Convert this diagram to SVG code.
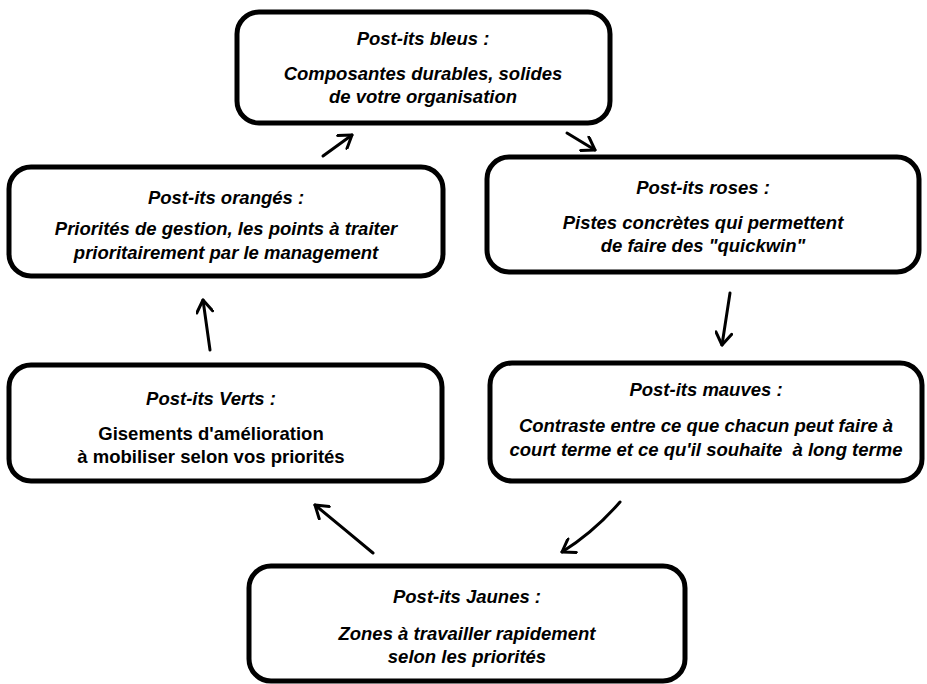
<svg xmlns="http://www.w3.org/2000/svg" width="927" height="684" viewBox="0 0 927 684">
  <style>
    .box { fill: #ffffff; stroke: #000000; stroke-width: 5; }
    .t { font-family: "Liberation Sans", Arial, sans-serif; font-size: 18.5px; font-weight: bold; font-style: italic; fill: #000000; text-anchor: middle; }
    .up { font-style: normal; }
    .arrow { fill: none; stroke: #000000; stroke-width: 3; stroke-linecap: round; marker-end: url(#head); }
  </style>
  <defs>
    <marker id="head" viewBox="-14 -9 16 18" refX="0" refY="0" markerWidth="16" markerHeight="18" markerUnits="userSpaceOnUse" orient="auto">
      <path d="M-12,-8 L0,0 L-12,8" fill="none" stroke="#000000" stroke-width="3" stroke-linecap="round" stroke-linejoin="round"/>
    </marker>
  </defs>
  <rect width="927" height="684" fill="#ffffff"/>

  <g id="connectors">
    <path class="arrow" d="M323,156 L352,135"/>
    <path class="arrow" d="M567,133 L595,150"/>
    <path class="arrow" d="M730,293 L722,345"/>
    <path class="arrow" d="M210,350 L203,300"/>
    <path class="arrow" d="M620,502 Q594,532 562,552"/>
    <path class="arrow" d="M373,553 Q343,528 315,505"/>
  </g>

  <g id="bleus">
    <rect class="box" x="237" y="12" width="373" height="111" rx="22"/>
    <text class="t" x="423" y="45">Post-its bleus :</text>
    <text class="t" x="423" y="80">Composantes durables, solides</text>
    <text class="t" x="423" y="103">de votre organisation</text>
  </g>

  <g id="oranges">
    <rect class="box" x="9" y="167" width="434" height="109" rx="22"/>
    <text class="t" x="226" y="204">Post-its orangés :</text>
    <text class="t" x="226" y="235">Priorités de gestion, les points à traiter</text>
    <text class="t" x="226" y="259">prioritairement par le management</text>
  </g>

  <g id="roses">
    <rect class="box" x="487" y="157" width="432" height="115" rx="22"/>
    <text class="t" x="703" y="194">Post-its roses :</text>
    <text class="t" x="703" y="229">Pistes concrètes qui permettent</text>
    <text class="t" x="703" y="252">de faire des "quickwin"</text>
  </g>

  <g id="verts">
    <rect class="box" x="9" y="365" width="433" height="116" rx="22"/>
    <text class="t" x="211" y="405">Post-its Verts :</text>
    <text class="t up" x="211" y="440">Gisements d'amélioration</text>
    <text class="t up" x="211" y="463">à mobiliser selon vos priorités</text>
  </g>

  <g id="mauves">
    <rect class="box" x="490" y="363" width="432" height="118" rx="22"/>
    <text class="t" x="706" y="396">Post-its mauves :</text>
    <text class="t" x="706" y="432">Contraste entre ce que chacun peut faire à</text>
    <text class="t" x="706" y="456">court terme et ce qu'il souhaite&#160; à long terme</text>
  </g>

  <g id="jaunes">
    <rect class="box" x="249" y="566" width="436" height="115" rx="22"/>
    <text class="t" x="467" y="603">Post-its Jaunes :</text>
    <text class="t" x="467" y="640">Zones à travailler rapidement</text>
    <text class="t" x="467" y="663">selon les priorités</text>
  </g>
</svg>
